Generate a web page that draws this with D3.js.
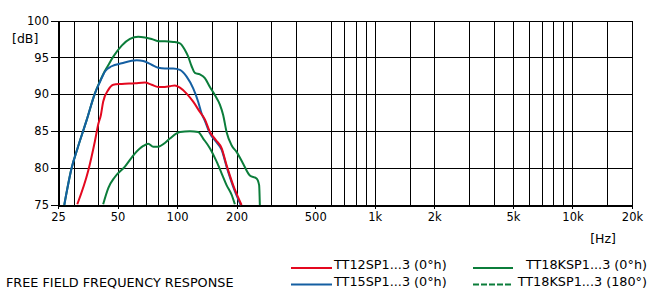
<!doctype html>
<html>
<head>
<meta charset="utf-8">
<title>Free field frequency response</title>
<script src="https://d3js.org/d3.v7.min.js"></script>
<style>
  body { margin: 0; background: #fff; }
  svg text { font-family: "DejaVu Sans", sans-serif; font-size: 12.8px; fill: #000; }
  .grid line { stroke: #000; stroke-width: 1px; shape-rendering: crispEdges; }
  .axis path, .axis line { stroke: #000; shape-rendering: crispEdges; }
  .curve { fill: none; stroke-width: 2px; stroke-linejoin: round; }
</style>
</head>
<body>
<div id="chart"></div>
<script>
// ---- data (Hz, dB) ----
var tt12 = [[31.3,75.1],[35.6,79.7],[38.4,83.6],[40.0,86.0],[41.2,87.2],[42.3,89.0],[44.9,90.6],[47.6,91.3],
  [52.5,91.4],[61.3,91.5],[68.8,91.6],[74.4,91.3],[80.3,91.0],[86.8,91.0],[92.0,91.1],[97.5,91.2],
  [103.4,90.9],[111.8,90.1],[120.7,89.0],[130.5,87.6],[138.3,86.6],[146.6,84.9],[157.2,83.8],
  [168.0,82.7],[178.0,80.4],[192.2,77.7],[212,75.0]];

var tt15 = [[26.9,75.0],[29.3,80.0],[31.4,82.7],[34.9,86.5],[38.4,90.1],[40.8,91.7],[43.2,93.1],[46.7,93.8],
  [52.5,94.2],[62.5,94.6],[67.5,94.5],[74.4,94.0],[80.3,93.6],[86.8,93.5],[95.6,93.5],[103.4,93.3],
  [111.8,92.4],[120.7,90.8],[127.9,89.0],[133.1,87.4],[138.3,86.4],[146.6,84.7],[157.2,83.6],
  [168.0,82.5],[178.0,80.2],[192.2,77.5],[210,75.0]];

var tt18k0 = [[26.9,75.0],[29.3,80.0],[31.4,82.7],[34.9,86.5],[38.4,90.1],[40.8,91.8],[43.2,93.2],[44.1,93.6],
  [47.6,95.1],[52.5,96.6],[57.8,97.5],[63.6,97.8],[68.8,97.7],[74.4,97.5],[80.3,97.2],[86.8,97.2],
  [95.6,97.1],[103.4,96.9],[109.6,96.0],[113.9,95.1],[118.5,93.8],[123.1,92.9],[130.5,92.7],
  [138.3,92.2],[146.6,91.0],[155.4,89.9],[164.7,88.6],[171.1,87.2],[178.0,84.9],[188.7,83.1],
  [200,82.2],[215.9,80.6],[233.5,79.0],[252.4,78.6],[260.1,77.7],[262.3,75.0]];

var tt18k180 = [[42.3,75.1],[44.9,77.3],[48.5,78.8],[54.5,80.2],[61.3,82.0],[67.5,83.0],[71.5,83.3],
  [75.8,82.9],[80.3,82.9],[86.8,83.4],[92.0,84.0],[103.4,84.9],[116.2,85.0],[127.9,84.9],[135.6,84.0],
  [146.6,82.7],[158.4,80.9],[168.0,79.3],[178.0,77.7],[188.7,76.4],[196.1,75.1]];

var gridFreqs = [30,40,50,60,70,80,90,100,150,200,300,400,600,700,800,900,1000,1500,
  2000,3000,4000,5000,6000,7000,8000,9000,10000,15000,20000];
var labelFreqs = [25,50,100,200,500,1000,2000,5000,10000,20000];
var labelTexts = ["25","50","100","200","500","1k","2k","5k","10k","20k"];
var dbTicks = [75,80,85,90,95,100];

var names = ["TT12SP1...3 (0°h)","TT15SP1...3 (0°h)","TT18KSP1...3 (0°h)","TT18KSP1...3 (180°)"];
var colors = {red: "#e4081f", blue: "#145fa2", green: "#0b7d3a"};

// ---- canvas ----
var W = 653, H = 291;
var svg = d3.select("#chart").append("svg").attr("width", W).attr("height", H);

var x = d3.scaleLog().domain([25, 20000]).range([58, 632]);
var y = d3.scaleLinear().domain([75, 100]).range([205, 20.5]);

// vertical grid
svg.append("g").attr("class", "grid")
  .selectAll("line").data(gridFreqs).enter().append("line")
    .attr("x1", function(d) { return Math.round(x(d)) + 0.5; })
    .attr("x2", function(d) { return Math.round(x(d)) + 0.5; })
    .attr("y1", y(100)).attr("y2", y(75));

// horizontal grid (with little ticks to the left of the axis)
svg.append("g").attr("class", "grid")
  .selectAll("line").data(dbTicks.slice(1)).enter().append("line")
    .attr("x1", 51).attr("x2", x(20000) + 1)
    .attr("y1", function(d) { return Math.round(y(d)) + 0.5; })
    .attr("y2", function(d) { return Math.round(y(d)) + 0.5; });

// x axis
var xAxis = svg.append("g").attr("class", "axis")
  .attr("transform", "translate(0," + Math.round(y(75)) + ")")
  .call(d3.axisBottom(x).tickValues(labelFreqs)
    .tickFormat(function(d, i) { return labelTexts[i]; })
    .tickSize(4).tickPadding(4).tickSizeOuter(0));
xAxis.select(".domain").attr("stroke-width", 2);
xAxis.selectAll("text").style("font-family", "DejaVu Sans").style("font-size", "11.5px");

// y axis
var yAxis = svg.append("g").attr("class", "axis")
  .attr("transform", "translate(58,0)")
  .call(d3.axisLeft(y).tickValues(dbTicks).tickSize(7).tickPadding(2).tickSizeOuter(0));
yAxis.select(".domain").attr("stroke-width", 2);
yAxis.selectAll("text").style("font-family", "DejaVu Sans").style("font-size", "11.5px");

svg.append("text").attr("x", 12).attr("y", 43).style("font-size", "12.5px").text("[dB]");
svg.append("text").attr("x", 603).attr("y", 243).style("font-size", "12.5px")
  .attr("text-anchor", "middle").text("[Hz]");

// ---- curves ----
var line = d3.line()
  .x(function(d) { return x(d[0]); })
  .y(function(d) { return y(d[1]); })
  .curve(d3.curveMonotoneX);

svg.append("path").attr("class", "curve").datum(tt18k180)
  .attr("stroke", colors.green).attr("d", line);
svg.append("path").attr("class", "curve").datum(tt18k0)
  .attr("stroke", colors.green).attr("d", line);
svg.append("path").attr("class", "curve").datum(tt15)
  .attr("stroke", colors.blue).attr("d", line);
svg.append("path").attr("class", "curve").datum(tt12)
  .attr("stroke", colors.red).attr("d", line);

// ---- legend ----
svg.append("text").attr("x", 6).attr("y", 286.5).text("FREE FIELD FREQUENCY RESPONSE");

var legend = [
  {name: names[0], color: colors.red,   x1: 291, x2: 332, y: 268, tx: 334, anchor: "start", dash: null},
  {name: names[1], color: colors.blue,  x1: 291, x2: 332, y: 284.5, tx: 334, anchor: "start", dash: null},
  {name: names[2], color: colors.green, x1: 473, x2: 513, y: 268, tx: 647, anchor: "end", dash: null},
  {name: names[3], color: colors.green, x1: 473, x2: 511, y: 284.5, tx: 647, anchor: "end", dash: "6,2"}
];
legend.forEach(function(l) {
  svg.append("line").attr("x1", l.x1).attr("x2", l.x2).attr("y1", l.y).attr("y2", l.y)
    .attr("stroke", l.color).attr("stroke-width", 2).attr("stroke-dasharray", l.dash);
  svg.append("text").attr("x", l.tx).attr("y", l.y + 1).attr("text-anchor", l.anchor).text(l.name);
});
</script>
</body>
</html>
